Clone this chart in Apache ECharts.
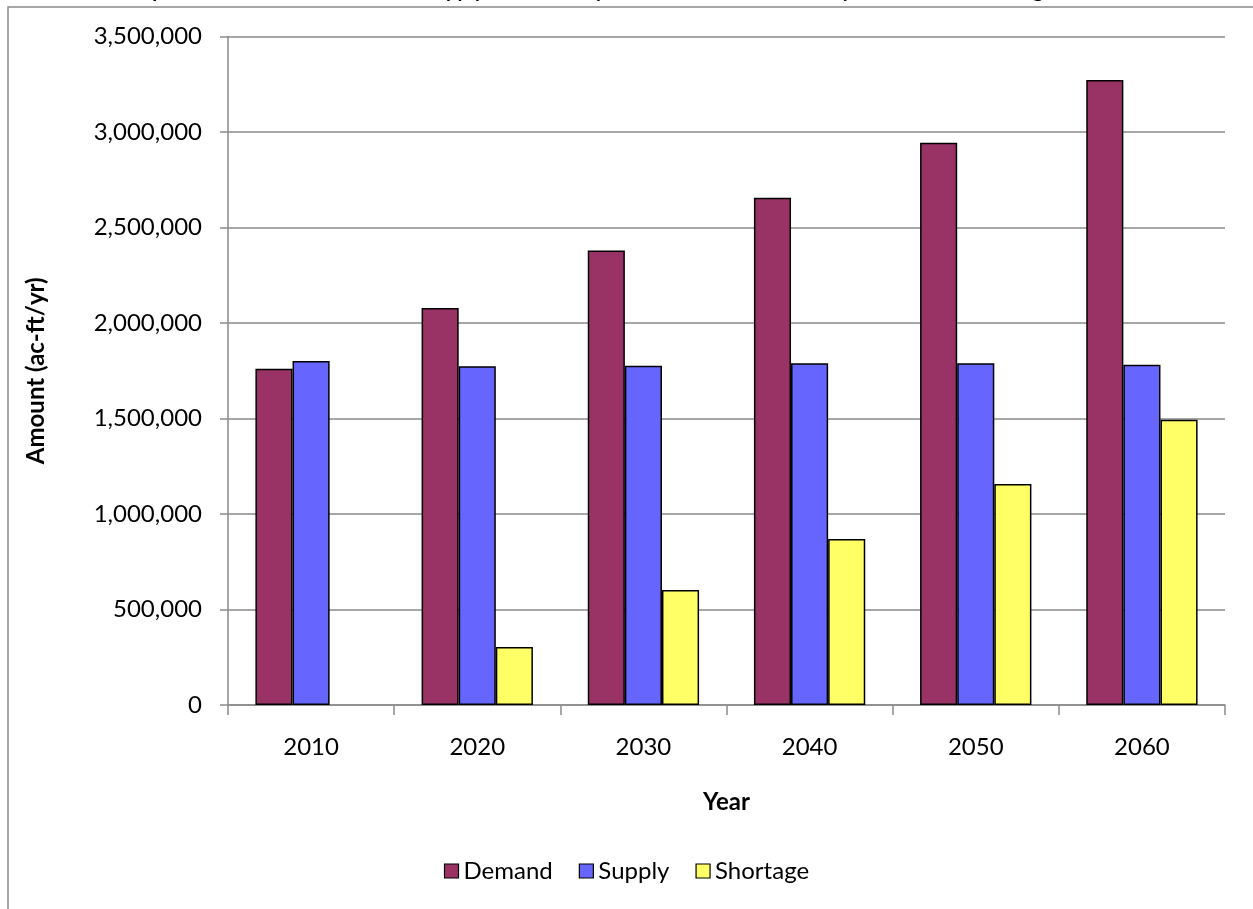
<!DOCTYPE html>
<html>
<head>
<meta charset="utf-8">
<script src="https://cdn.jsdelivr.net/npm/echarts@6/dist/echarts.min.js"></script>
<style>
html,body{margin:0;padding:0;background:#fff;}
#chart{width:1253px;height:909px;}
</style>
</head>
<body>
<div id="chart"></div>
<script>
const categories = ['2010', '2020', '2030', '2040', '2050', '2060'];
const demand   = [1761000, 2079000, 2379000, 2656000, 2944000, 3272000];
const supply   = [1801000, 1773000, 1776000, 1789000, 1789000, 1782000];
const shortage = [0, 304000, 602000, 869000, 1157000, 1493000];
const seriesNames = ['Demand', 'Supply', 'Shortage'];
const titleText = 'Comparison of Water Demand and Supply for the Study Area from 2010 to 2060 by Decade with Shortages';

const FONT = 'Lato, "Open Sans", sans-serif';
const chart = echarts.init(document.getElementById('chart'));
const fmt = v => v.toLocaleString('en-US');

chart.setOption({
  animation: false,
  backgroundColor: '#fff',
  textStyle: { fontFamily: FONT },
  title: {
    text: titleText,
    left: 111,
    top: -19,
    padding: 0,
    textStyle: { fontFamily: FONT, fontSize: 20, fontWeight: 'bold', color: '#000' }
  },
  graphic: [{
    type: 'rect',
    shape: { x: 8, y: 7, width: 1400, height: 1000 },
    style: { fill: 'none', stroke: '#8a8a8a', lineWidth: 1.5 },
    silent: true,
    z: -10
  }],
  legend: {
    data: seriesNames,
    bottom: 21,
    left: 'center',
    icon: 'rect',
    itemWidth: 14,
    itemHeight: 14,
    itemGap: 26,
    textStyle: { fontFamily: FONT, fontSize: 24, color: '#000' },
    itemStyle: { borderColor: '#000', borderWidth: 1.2 }
  },
  grid: { left: 228, right: 28, top: 36.5, bottom: 204, containLabel: false },
  xAxis: {
    type: 'category',
    data: categories,
    name: 'Year',
    nameLocation: 'middle',
    nameGap: 85,
    nameTextStyle: { fontFamily: FONT, fontSize: 24, fontWeight: 'bold', color: '#000' },
    axisLine: { lineStyle: { color: '#8a8a8a', width: 1.5 } },
    axisTick: { show: true, length: 10, lineStyle: { color: '#8a8a8a', width: 1.5 } },
    axisLabel: { fontFamily: FONT, fontSize: 24, color: '#000', margin: 30 }
  },
  yAxis: {
    type: 'value',
    min: 0,
    max: 3500000,
    interval: 500000,
    name: 'Amount (ac-ft/yr)',
    nameLocation: 'middle',
    nameGap: 180,
    nameTextStyle: { fontFamily: FONT, fontSize: 24, fontWeight: 'bold', color: '#000' },
    axisLine: { show: true, lineStyle: { color: '#8a8a8a', width: 1.5 } },
    axisTick: { show: true, length: 8, lineStyle: { color: '#8a8a8a', width: 1.5 } },
    axisLabel: { fontFamily: FONT, fontSize: 24, color: '#000', margin: 26, formatter: fmt },
    splitLine: { lineStyle: { color: '#8a8a8a', width: 1.5 } }
  },
  series: [
    { name: seriesNames[0], type: 'bar', data: demand, barGap: '0%', barCategoryGap: '33%',
      itemStyle: { color: '#993366', borderColor: '#000', borderWidth: 1.5 } },
    { name: seriesNames[1], type: 'bar', data: supply, barGap: '0%', barCategoryGap: '33%',
      itemStyle: { color: '#6666FF', borderColor: '#000', borderWidth: 1.5 } },
    { name: seriesNames[2], type: 'bar', data: shortage.map(v => v === 0 ? null : v), barGap: '0%', barCategoryGap: '33%',
      itemStyle: { color: '#FFFF66', borderColor: '#000', borderWidth: 1.5 } }
  ]
});
</script>
</body>
</html>
